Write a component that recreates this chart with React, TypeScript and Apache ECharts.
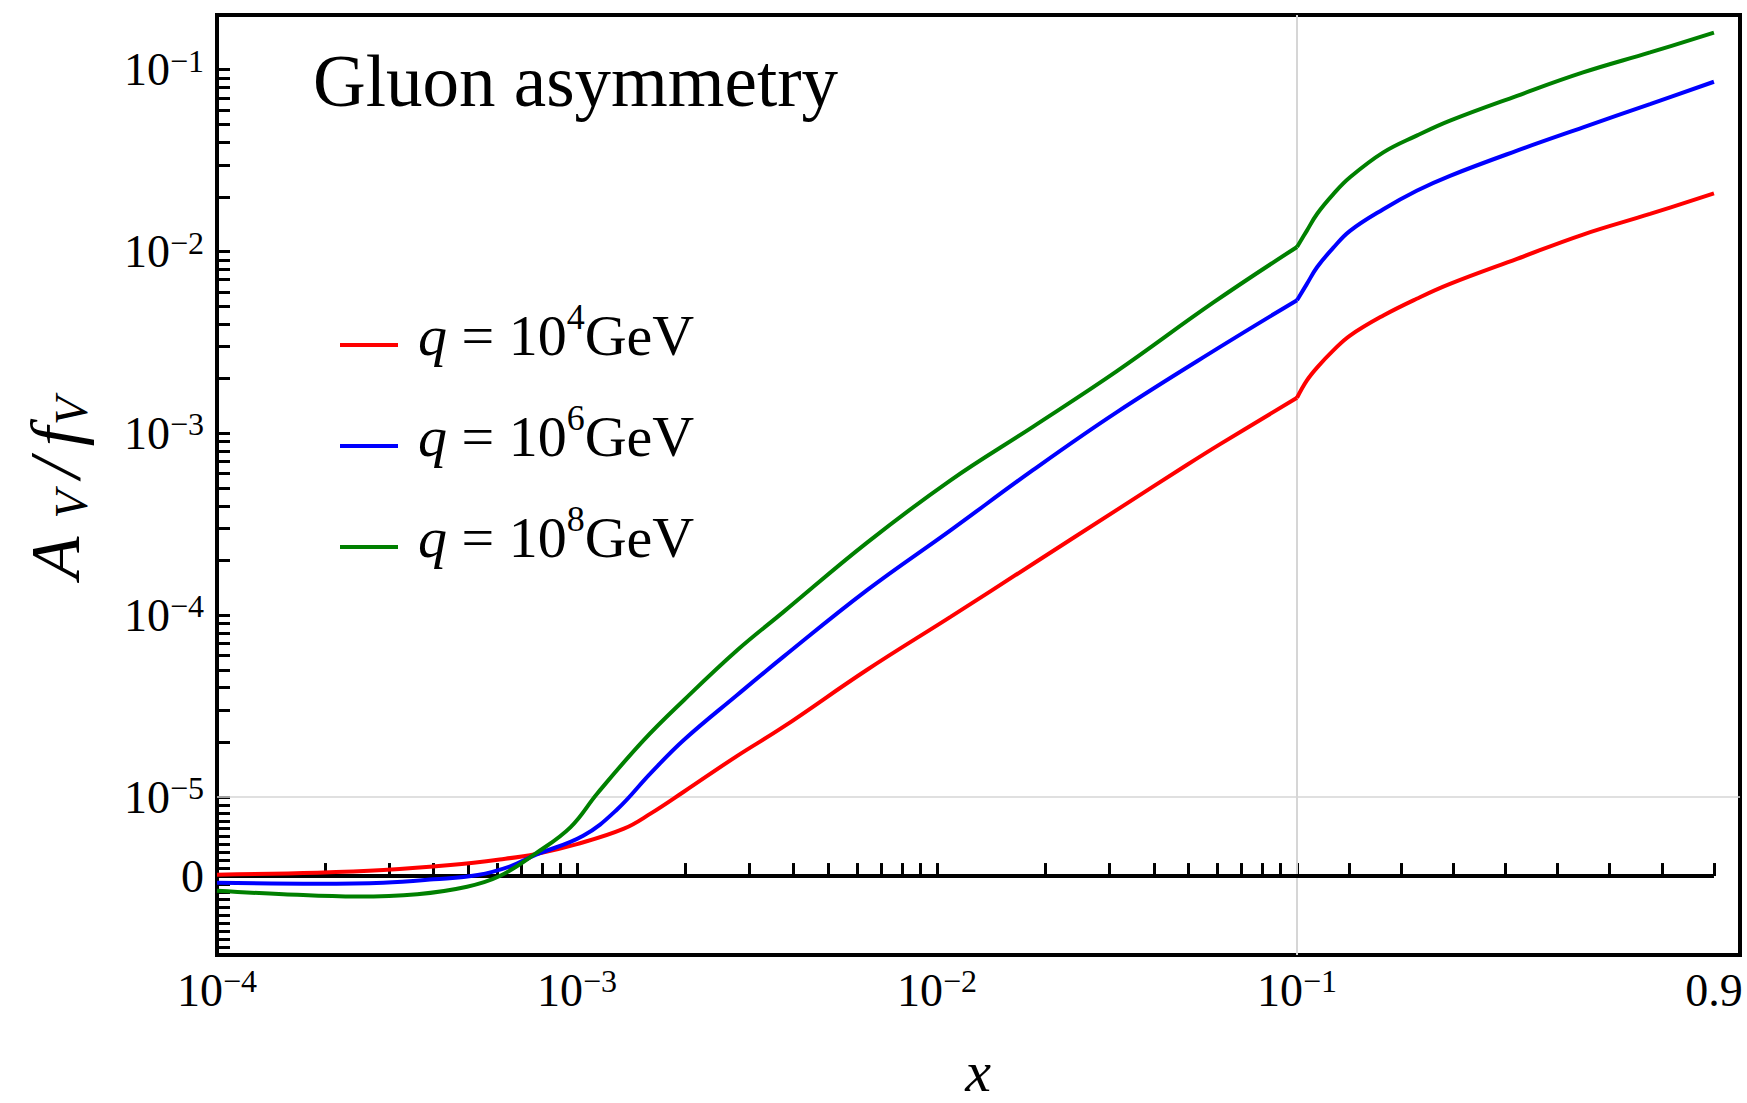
import React, { useEffect, useRef } from "react";
import * as echarts from "echarts";

const SERIF = "'Liberation Serif', 'Times New Roman', Times, serif";
const W = 1747;
const H = 1103;

// ---------------- data ----------------
const seriesNames = ["q = 10^4 GeV", "q = 10^6 GeV", "q = 10^8 GeV"];
const seriesExps = ["4", "6", "8"];
const seriesColors = ["#ff0000", "#0000ff", "#008000"];

const redX = [1e-4, 1.9e-4, 2.9e-4, 4.45e-4, 6.1e-4, 7.7e-4, 1e-3, 1.35e-3, 1.6e-3, 1.98e-3, 2.78e-3, 3.74e-3, 6.38e-3, 1.09e-2, 1.85e-2, 3.16e-2, 4.94e-2, 6.1e-2, 0.1, 0.1187, 0.1384, 0.1697, 0.2017, 0.2656, 0.3296, 0.3936, 0.5222, 0.6489, 0.7774, 0.9];
const redY = [1.7e-7, 4.2e-7, 7.6e-7, 1.4e-6, 2.1e-6, 2.8e-6, 4.05e-6, 6.0e-6, 7.9e-6, 1.07e-5, 1.68e-5, 2.43e-5, 5.0e-5, 9.8e-5, 1.92e-4, 3.8e-4, 6.7e-4, 8.7e-4, 1.57e-3, 1.95e-3, 2.30e-3, 2.86e-3, 3.45e-3, 4.45e-3, 5.50e-3, 6.64e-3, 9.12e-3, 1.24e-2, 1.61e-2, 2.09e-2];

const blueX = [1e-4, 1.9e-4, 2.9e-4, 4e-4, 5.3e-4, 6.5e-4, 7.7e-4, 1.04e-3, 1.29e-3, 1.6e-3, 1.98e-3, 2.78e-3, 3.74e-3, 6.38e-3, 1.09e-2, 1.85e-2, 3.16e-2, 6.1e-2, 0.1, 0.1187, 0.1384, 0.1697, 0.2017, 0.2656, 0.3296, 0.3936, 0.5222, 0.6489, 0.7774, 0.9];
const blueY = [-8.5e-7, -9.7e-7, -8.5e-7, -4.2e-7, 1.3e-7, 1.2e-6, 2.7e-6, 5.1e-6, 8.4e-6, 1.35e-5, 2.06e-5, 3.63e-5, 5.9e-5, 1.37e-4, 2.93e-4, 6.3e-4, 1.31e-3, 2.98e-3, 5.4e-3, 6.62e-3, 8.2e-3, 1.05e-2, 1.30e-2, 1.71e-2, 2.16e-2, 2.61e-2, 3.59e-2, 4.82e-2, 6.47e-2, 8.59e-2];

const greenX = [1e-4, 1.53e-4, 2.45e-4, 3.6e-4, 4.95e-4, 6.1e-4, 7.7e-4, 9.6e-4, 1.14e-3, 1.53e-3, 1.98e-3, 2.78e-3, 3.74e-3, 6.38e-3, 1.09e-2, 1.85e-2, 3.16e-2, 5.86e-2, 0.1, 0.1187, 0.1384, 0.1697, 0.2017, 0.2656, 0.3296, 0.3936, 0.5222, 0.6489, 0.7774, 0.9];
const greenY = [-1.86e-6, -2.3e-6, -2.6e-6, -2.3e-6, -1.35e-6, 0, 2.9e-6, 6.2e-6, 1.05e-5, 2.05e-5, 3.41e-5, 6.4e-5, 1.04e-4, 2.5e-4, 5.52e-4, 1.09e-3, 2.2e-3, 5.25e-3, 1.06e-2, 1.30e-2, 1.61e-2, 2.07e-2, 2.56e-2, 3.51e-2, 4.34e-2, 5.25e-2, 7.19e-2, 9.66e-2, 0.1245, 0.160];

const allX = [redX, blueX, greenX];
const allY = [redY, blueY, greenY];

// axis structure
const X_MIN = 1e-4;
const X_BREAK = 0.1; // log below, linear above
const X_MAX = 0.95;
const Y_MIN = -1e-5;
const Y_MAX = 0.2;
const LINTHRESH = 1e-5; // symlog threshold

const xLabelVals = [1e-4, 1e-3, 1e-2, 1e-1, 0.9];
const xLabelTexts = ["{b|10}{s|\u22124}", "{b|10}{s|\u22123}", "{b|10}{s|\u22122}", "{b|10}{s|\u22121}", "{b|0.9}"];
const yLabelVals = [0, 1e-5, 1e-4, 1e-3, 1e-2, 1e-1];
const yLabelTexts = ["{b|0}", "{b|10}{s|\u22125}", "{b|10}{s|\u22124}", "{b|10}{s|\u22123}", "{b|10}{s|\u22122}", "{b|10}{s|\u22121}"];
const xLinearTicks = [0.2, 0.3, 0.4, 0.5, 0.6, 0.7, 0.8, 0.9];
const xLogDecades = [-4, -3, -2];
const yLogDecades = [-5, -4, -3, -2];
const mantissas = [1, 2, 3, 4, 5, 6, 7, 8, 9];

// ---------------- scale transforms ----------------
const LN10 = Math.LN10;
const fx = (x: number) =>
  x <= X_BREAK ? Math.log10(x / X_MIN) : Math.log10(X_BREAK / X_MIN) + (x - X_BREAK) / (3 * X_BREAK * LN10);
const fy = (y: number) =>
  Math.abs(y) <= LINTHRESH ? y / LINTHRESH : Math.sign(y) * (1 + LN10 * Math.log10(Math.abs(y) / LINTHRESH));

const xTicks: number[] = [];
xLogDecades.forEach((k) => mantissas.forEach((m) => xTicks.push(fx(m * Math.pow(10, k)))));
xTicks.push(fx(X_BREAK));
xLinearTicks.forEach((v) => xTicks.push(fx(v)));

const yTicks: number[] = [];
for (let i = -10; i <= 10; i++) yTicks.push(fy(i * 1e-6));
yLogDecades.forEach((k) =>
  mantissas.forEach((m) => {
    if (k === -5 && m === 1) return;
    yTicks.push(fy(m * Math.pow(10, k)));
  })
);
yTicks.push(fy(0.1));

const xLabelPos = xLabelVals.map(fx);
const yLabelPos = yLabelVals.map(fy);

const findLabel = (pos: number[], texts: string[], v: number) => {
  const i = pos.findIndex((p) => Math.abs(p - v) < 1e-6);
  return i >= 0 ? texts[i] : "";
};

const labelRich = {
  b: { fontFamily: SERIF, fontSize: 46, color: "#000", lineHeight: 50 },
  s: { fontFamily: SERIF, fontSize: 32, color: "#000", lineHeight: 50, padding: [0, 0, 18, 0] },
};

function buildOption() {
  const series: any[] = [];

  // reference grid lines at the scale breaks
  series.push({
    type: "line",
    data: [[fx(X_BREAK), fy(Y_MIN)], [fx(X_BREAK), fy(Y_MAX)]],
    symbol: "none",
    lineStyle: { color: "#d6d6d6", width: 2 },
    silent: true,
    z: 1,
  });
  series.push({
    type: "line",
    data: [[fx(X_MIN), fy(LINTHRESH)], [fx(X_MAX), fy(LINTHRESH)]],
    symbol: "none",
    lineStyle: { color: "#d6d6d6", width: 1.5 },
    silent: true,
    z: 1,
  });
  // zero line
  series.push({
    type: "line",
    data: [[fx(X_MIN), 0], [fx(0.9), 0]],
    symbol: "none",
    lineStyle: { color: "#000", width: 4 },
    silent: true,
    z: 2,
  });

  seriesNames.forEach((name, si) => {
    const xs = allX[si];
    const ys = allY[si];
    const pre: number[][] = [];
    const post: number[][] = [];
    xs.forEach((x, i) => {
      const p = [fx(x), fy(ys[i])];
      if (x <= X_BREAK) pre.push(p);
      if (x >= X_BREAK) post.push(p);
    });
    [pre, post].forEach((d) => {
      series.push({
        type: "line",
        name,
        data: d,
        symbol: "none",
        showSymbol: false,
        smooth: 0.4,
        lineStyle: { color: seriesColors[si], width: 4 },
        itemStyle: { color: seriesColors[si] },
        silent: true,
        z: 3 + si,
      });
    });
  });

  return {
    animation: false,
    backgroundColor: "#ffffff",
    grid: {
      left: 217,
      top: 15,
      width: 1523,
      height: 940,
      show: true,
      borderColor: "#000",
      borderWidth: 4,
      backgroundColor: "transparent",
      containLabel: false,
    },
    legend: {
      data: seriesNames,
      orient: "vertical",
      left: 340,
      top: 299,
      padding: 0,
      itemWidth: 58,
      itemHeight: 4,
      itemGap: 9,
      icon: "rect",
      selectedMode: false,
      itemStyle: { borderWidth: 0 },
      formatter: (name: string) => {
        const i = seriesNames.indexOf(name);
        return `{q|q}{t| = 10}{s|${seriesExps[i]}}{t|GeV}`;
      },
      textStyle: {
        fontFamily: SERIF,
        fontSize: 58,
        color: "#000",
        lineHeight: 60,
        rich: {
          q: { fontFamily: SERIF, fontStyle: "italic", fontSize: 58, color: "#000", lineHeight: 60, padding: [0, 0, 20, 15] },
          t: { fontFamily: SERIF, fontSize: 58, color: "#000", lineHeight: 60, padding: [0, 0, 20, 0] },
          s: { fontFamily: SERIF, fontSize: 36, color: "#000", lineHeight: 60, padding: [0, 0, 56, 0] },
        },
      },
    },
    xAxis: {
      type: "value",
      min: fx(X_MIN),
      max: fx(X_MAX),
      axisLine: { show: false },
      splitLine: { show: false },
      minorTick: { show: false },
      axisTick: {
        show: true,
        inside: true,
        length: 13,
        lineStyle: { color: "#000", width: 3 },
        customValues: xTicks,
      },
      axisLabel: {
        show: true,
        customValues: xLabelPos,
        margin: 10,
        color: "#000",
        fontFamily: SERIF,
        fontSize: 46,
        hideOverlap: false,
        showMinLabel: true,
        showMaxLabel: true,
        formatter: (v: number) => findLabel(xLabelPos, xLabelTexts, v),
        rich: labelRich,
      },
    },
    yAxis: {
      type: "value",
      min: fy(Y_MIN),
      max: fy(Y_MAX),
      axisLine: { show: false },
      splitLine: { show: false },
      minorTick: { show: false },
      axisTick: {
        show: true,
        inside: true,
        length: 13,
        lineStyle: { color: "#000", width: 3 },
        customValues: yTicks,
      },
      axisLabel: {
        show: true,
        customValues: yLabelPos,
        margin: 13,
        color: "#000",
        fontFamily: SERIF,
        fontSize: 46,
        hideOverlap: false,
        showMinLabel: true,
        showMaxLabel: true,
        formatter: (v: number) => findLabel(yLabelPos, yLabelTexts, v),
        rich: labelRich,
      },
    },
    graphic: [
      {
        type: "text",
        x: 313,
        y: 81,
        silent: true,
        style: {
          text: "Gluon asymmetry",
          fontFamily: SERIF,
          fontSize: 73,
          fill: "#000",
          align: "left",
          verticalAlign: "middle",
        },
      },
      {
        type: "text",
        x: 978,
        y: 1071,
        silent: true,
        style: {
          text: "x",
          fontFamily: SERIF,
          fontStyle: "italic",
          fontSize: 58,
          lineHeight: 48,
          fill: "#000",
          align: "center",
          verticalAlign: "middle",
        },
      },
      {
        type: "text",
        x: 55,
        y: 482,
        rotation: Math.PI / 2,
        silent: true,
        style: {
          text: "{a|A}{s|V}{m|/}{f|f}{s|V}",
          fill: "#000",
          align: "center",
          verticalAlign: "middle",
          rich: {
            a: { fontFamily: SERIF, fontStyle: "italic", fontSize: 70, color: "#000", lineHeight: 80, padding: [0, 18, 0, 0] },
            s: { fontFamily: SERIF, fontStyle: "italic", fontSize: 46, color: "#000", lineHeight: 80, padding: [32, 12, 0, 0] },
            m: { fontFamily: SERIF, fontStyle: "italic", fontSize: 72, color: "#000", lineHeight: 80, padding: [0, 12, 0, 0] },
            f: { fontFamily: SERIF, fontStyle: "italic", fontSize: 70, color: "#000", lineHeight: 80, padding: [0, 2, 0, 0] },
          },
        },
      },
    ],
    series,
  };
}

export default function App() {
  const ref = useRef<HTMLDivElement>(null);
  useEffect(() => {
    if (!ref.current) return;
    const chart = echarts.init(ref.current, null, { renderer: "svg" });
    chart.setOption(buildOption() as any);
    return () => chart.dispose();
  }, []);
  return (
    <div
      ref={ref}
      style={{ position: "absolute", left: 0, top: 0, width: W, height: H, background: "#fff" }}
    />
  );
}
